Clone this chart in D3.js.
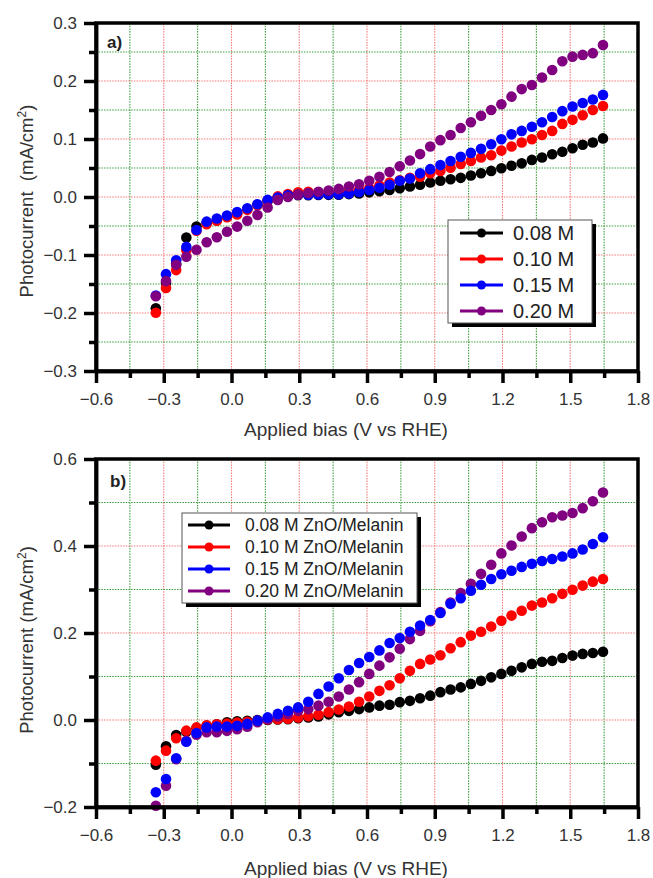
<!DOCTYPE html>
<html>
<head>
<meta charset="utf-8">
<script src="https://cdn.jsdelivr.net/npm/d3@7"></script>
<style>
  body { margin: 0; background: #fff; }
  svg text { font-family: "Liberation Sans", Arial, sans-serif; }
</style>
</head>
<body>
<div id="chart"></div>
<script>
// applied bias (V vs RHE), shared by every series
const bias = [-0.335, -0.290, -0.245, -0.200, -0.155, -0.110, -0.065, -0.020, 0.025, 0.070,
  0.115, 0.160, 0.205, 0.250, 0.295, 0.340, 0.385, 0.430, 0.475, 0.520,
  0.565, 0.610, 0.655, 0.700, 0.745, 0.790, 0.835, 0.880, 0.925, 0.970,
  1.015, 1.060, 1.105, 1.150, 1.195, 1.240, 1.285, 1.330, 1.375, 1.420,
  1.465, 1.510, 1.555, 1.600, 1.645];

// panel a) photocurrent (mA/cm2)
const topBlack = [-0.192, -0.148, -0.115, -0.070, -0.051, -0.045, -0.040, -0.034, -0.028, -0.021,
  -0.014, -0.007, -0.001, 0.002, 0.003, 0.003, 0.0035, 0.0037, 0.004, 0.005,
  0.006, 0.008, 0.010, 0.012, 0.015, 0.018, 0.021, 0.025, 0.028, 0.0305,
  0.033, 0.037, 0.041, 0.045, 0.0495, 0.054, 0.058, 0.064, 0.068, 0.0736,
  0.078, 0.084, 0.090, 0.094, 0.101];
const topRed = [-0.1995, -0.157, -0.126, -0.092, -0.058, -0.047, -0.041, -0.035, -0.030, -0.022,
  -0.014, -0.006, 0.001, 0.005, 0.008, 0.009, 0.008, 0.007, 0.008, 0.009,
  0.012, 0.015, 0.020, 0.025, 0.029, 0.033, 0.035, 0.041, 0.045, 0.0505,
  0.057, 0.062, 0.068, 0.072, 0.080, 0.087, 0.094, 0.0995, 0.107, 0.114,
  0.126, 0.133, 0.141, 0.150, 0.157];
const topBlue = [-0.170, -0.133, -0.109, -0.086, -0.057, -0.0425, -0.037, -0.032, -0.026, -0.0195,
  -0.0126, -0.005, -0.001, 0.003, 0.004, 0.004, 0.0045, 0.0047, 0.0047, 0.006,
  0.0086, 0.012, 0.016, 0.021, 0.028, 0.032, 0.041, 0.048, 0.055, 0.062,
  0.0695, 0.076, 0.083, 0.091, 0.0995, 0.108, 0.114, 0.121, 0.129, 0.138,
  0.148, 0.156, 0.162, 0.168, 0.176];
const topPurple = [-0.171, -0.145, -0.117, -0.103, -0.091, -0.078, -0.0695, -0.060, -0.051, -0.041,
  -0.031, -0.018, -0.005, 0.000, 0.004, 0.007, 0.009, 0.011, 0.014, 0.018,
  0.022, 0.028, 0.035, 0.043, 0.053, 0.063, 0.074, 0.087, 0.098, 0.107,
  0.119, 0.129, 0.140, 0.150, 0.160, 0.173, 0.186, 0.193, 0.206, 0.219,
  0.234, 0.242, 0.245, 0.248, 0.262];

// panel b) photocurrent (mA/cm2)
const botBlack = [-0.103, -0.0605, -0.0345, -0.027, -0.019, -0.013, -0.010, -0.0054, -0.003, -0.002,
  0.000, 0.000, 0.001, 0.002, 0.004, 0.006, 0.008, 0.013, 0.018, 0.021,
  0.025, 0.029, 0.033, 0.035, 0.041, 0.044, 0.050, 0.056, 0.064, 0.070,
  0.075, 0.083, 0.090, 0.098, 0.106, 0.113, 0.121, 0.129, 0.134, 0.136,
  0.1425, 0.148, 0.152, 0.154, 0.157];
const botRed = [-0.0935, -0.0705, -0.042, -0.0245, -0.017, -0.012, -0.010, -0.008, -0.006, -0.004,
  -0.002, 0.001, 0.002, 0.003, 0.006, 0.0085, 0.012, 0.018, 0.024, 0.031,
  0.042, 0.054, 0.067, 0.080, 0.096, 0.113, 0.129, 0.139, 0.149, 0.165,
  0.179, 0.194, 0.203, 0.215, 0.228, 0.240, 0.251, 0.263, 0.270, 0.280,
  0.290, 0.2995, 0.309, 0.318, 0.324];
const botBlue = [-0.166, -0.1356, -0.088, -0.050, -0.030, -0.017, -0.015, -0.015, -0.0134, -0.009,
  -0.0015, 0.006, 0.014, 0.021, 0.029, 0.042, 0.060, 0.077, 0.096, 0.115,
  0.131, 0.145, 0.160, 0.177, 0.1885, 0.203, 0.217, 0.230, 0.246, 0.267,
  0.280, 0.297, 0.311, 0.324, 0.335, 0.343, 0.352, 0.359, 0.3655, 0.370,
  0.376, 0.383, 0.392, 0.4046, 0.420];
const botPurple = [-0.197, -0.151, -0.090, -0.048, -0.034, -0.028, -0.028, -0.025, -0.021, -0.0155,
  -0.005, 0.002, 0.008, 0.014, 0.021, 0.025, 0.033, 0.042, 0.054, 0.070,
  0.087, 0.106, 0.125, 0.144, 0.164, 0.186, 0.205, 0.227, 0.248, 0.270,
  0.292, 0.313, 0.336, 0.357, 0.383, 0.401, 0.422, 0.441, 0.4545, 0.466,
  0.470, 0.476, 0.487, 0.503, 0.523];

const xTicks = [-0.6, -0.3, 0.0, 0.3, 0.6, 0.9, 1.2, 1.5, 1.8];
const xMinor = [-0.45, -0.15, 0.15, 0.45, 0.75, 1.05, 1.35, 1.65];
const topYTicks = [-0.3, -0.2, -0.1, 0.0, 0.1, 0.2, 0.3];
const topYMinor = [-0.25, -0.15, -0.05, 0.05, 0.15, 0.25];
const botYTicks = [-0.2, 0.0, 0.2, 0.4, 0.6];
const botYMinor = [-0.1, 0.1, 0.3, 0.5];

const topNames = ["0.08 M", "0.10 M", "0.15 M", "0.20 M"];
const botNames = ["0.08 M ZnO/Melanin", "0.10 M ZnO/Melanin", "0.15 M ZnO/Melanin", "0.20 M ZnO/Melanin"];
const colors = ["#000000", "#ff0000", "#0000ff", "#800080"];

const W = 653, H = 878;
const svg = d3.select("#chart").append("svg")
    .attr("width", W)
    .attr("height", H)
    .style("display", "block");

function drawPanel(p) {
    const x = d3.scaleLinear().domain([-0.6, 1.8]).range([p.left, p.right]);
    const y = d3.scaleLinear().domain(p.yDomain).range([p.bottom, p.top]);
    const g = svg.append("g");

    // dotted grid: red on major ticks, green on minor ticks
    const grid = g.append("g").attr("stroke-width", 1.1).attr("stroke-dasharray", "1.5,1.2");
    grid.selectAll(".vmaj").data(xTicks.slice(1, -1)).join("line")
        .attr("x1", d => x(d)).attr("x2", d => x(d))
        .attr("y1", p.top).attr("y2", p.bottom)
        .attr("stroke", "#f27a7a");
    grid.selectAll(".vmin").data(xMinor).join("line")
        .attr("x1", d => x(d)).attr("x2", d => x(d))
        .attr("y1", p.top).attr("y2", p.bottom)
        .attr("stroke", "#3f9f3f");
    grid.selectAll(".hmaj").data(p.yTicks.slice(1, -1)).join("line")
        .attr("x1", p.left).attr("x2", p.right)
        .attr("y1", d => y(d)).attr("y2", d => y(d))
        .attr("stroke", "#f27a7a");
    grid.selectAll(".hmin").data(p.yMinor).join("line")
        .attr("x1", p.left).attr("x2", p.right)
        .attr("y1", d => y(d)).attr("y2", d => y(d))
        .attr("stroke", "#3f9f3f");

    // scatter points
    p.order.forEach(k => {
        g.append("g").selectAll("circle")
            .data(bias.map((b, i) => [b, p.series[k][i]]))
            .join("circle")
            .attr("cx", d => x(d[0]))
            .attr("cy", d => y(d[1]))
            .attr("r", 5.3)
            .attr("fill", colors[k]);
    });

    // frame
    g.append("rect")
        .attr("x", p.left).attr("y", p.top)
        .attr("width", p.right - p.left).attr("height", p.bottom - p.top)
        .attr("fill", "none").attr("stroke", "#000").attr("stroke-width", 3.5);

    const fmt = d3.format(".1f");
    const styleAxis = sel => {
        sel.selectAll("path,line").attr("stroke", "#000").attr("stroke-width", 3.5);
        sel.selectAll("text").attr("fill", "#333").style("font-size", "17px")
            .style("font-family", "'Liberation Sans', Arial, sans-serif");
    };

    g.append("g").attr("transform", `translate(0,${p.bottom})`)
        .call(d3.axisBottom(x).tickValues(xMinor).tickSize(7).tickSizeOuter(0).tickFormat(""))
        .call(styleAxis);
    g.append("g").attr("transform", `translate(0,${p.bottom})`)
        .call(d3.axisBottom(x).tickValues(xTicks).tickSize(12).tickSizeOuter(0).tickPadding(10).tickFormat(fmt))
        .call(styleAxis);
    g.append("g").attr("transform", `translate(${p.left},0)`)
        .call(d3.axisLeft(y).tickValues(p.yMinor).tickSize(7).tickSizeOuter(0).tickFormat(""))
        .call(styleAxis);
    g.append("g").attr("transform", `translate(${p.left},0)`)
        .call(d3.axisLeft(y).tickValues(p.yTicks).tickSize(12).tickSizeOuter(0).tickPadding(7).tickFormat(fmt))
        .call(styleAxis);

    // axis titles
    g.append("text")
        .attr("x", 346).attr("y", p.xTitleY)
        .attr("text-anchor", "middle")
        .attr("fill", "#333")
        .style("font-size", "19px")
        .text("Applied bias (V vs RHE)");

    const yt = g.append("text")
        .attr("transform", `translate(33,${p.yTitleMid}) rotate(-90)`)
        .attr("text-anchor", "middle")
        .attr("fill", "#333")
        .style("font-size", "18.5px")
        .style("white-space", "pre");
    yt.append("tspan").text(p.yTitle);
    yt.append("tspan").attr("dy", -7).style("font-size", "12px").text("2");
    yt.append("tspan").attr("dy", 7).text(")");

    // panel letter
    g.append("text")
        .attr("x", p.left + p.letterDx).attr("y", p.top + p.letterDy)
        .attr("fill", "#222")
        .style("font-size", "17px").style("font-weight", "bold")
        .text(p.letter);

    // legend
    const L = p.legend;
    const lg = g.append("g");
    lg.append("rect")
        .attr("x", L.x + 4).attr("y", L.y + 4)
        .attr("width", L.w).attr("height", L.h)
        .attr("fill", "#000");
    lg.append("rect")
        .attr("x", L.x).attr("y", L.y)
        .attr("width", L.w).attr("height", L.h)
        .attr("fill", "#fff").attr("stroke", "#555").attr("stroke-width", 1);
    const rows = lg.selectAll(".row").data(p.names).join("g")
        .attr("transform", (d, i) => `translate(${L.x},${L.y + L.first + i * L.step})`);
    rows.append("line")
        .attr("x1", L.lineX0).attr("x2", L.lineX1)
        .attr("stroke", (d, i) => colors[i]).attr("stroke-width", 3);
    rows.append("circle")
        .attr("cx", (L.lineX0 + L.lineX1) / 2)
        .attr("r", 4.5)
        .attr("fill", (d, i) => colors[i]);
    rows.append("text")
        .attr("x", L.textX).attr("dy", "0.36em")
        .attr("fill", "#222")
        .style("font-size", L.font + "px")
        .text(d => d);
}

drawPanel({
    left: 96, right: 638, top: 23, bottom: 371,
    yDomain: [-0.3, 0.3], yTicks: topYTicks, yMinor: topYMinor,
    series: [topBlack, topRed, topBlue, topPurple], order: [0, 1, 2, 3],
    names: topNames, xTitleY: 436, yTitleMid: 201,
    yTitle: "Photocurrent  (mA/cm",
    letter: "a)", letterDx: 11, letterDy: 25,
    legend: { x: 448, y: 220, w: 144, h: 103, first: 13, step: 26,
              lineX0: 12, lineX1: 55, textX: 65, font: 20 }
});

drawPanel({
    left: 96, right: 638, top: 459, bottom: 807,
    yDomain: [-0.2, 0.6], yTicks: botYTicks, yMinor: botYMinor,
    series: [botBlack, botRed, botBlue, botPurple], order: [0, 1, 3, 2],
    names: botNames, xTitleY: 875, yTitleMid: 640,
    yTitle: "Photocurrent (mA/cm",
    letter: "b)", letterDx: 14, letterDy: 28,
    legend: { x: 182, y: 513, w: 235, h: 90, first: 12, step: 22,
              lineX0: 6, lineX1: 48, textX: 63, font: 17.5 }
});
</script>
</body>
</html>
